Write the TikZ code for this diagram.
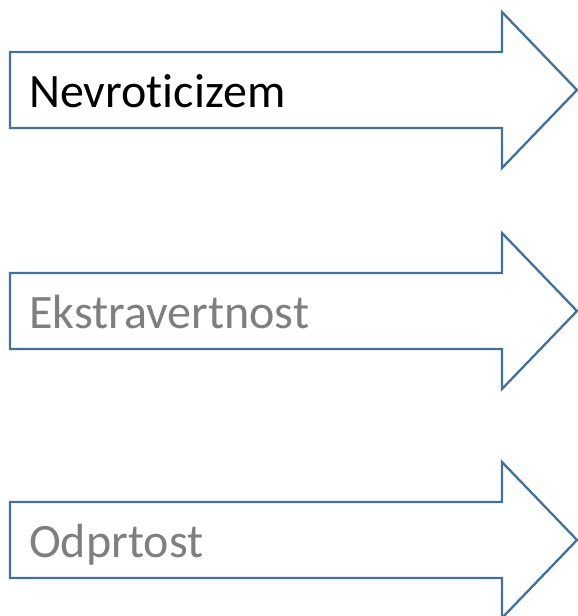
\documentclass[tikz,border=0pt]{standalone}
\usepackage{fontspec}
\setmainfont[Ligatures={NoCommon,NoContextual}]{Carlito}
\definecolor{arrowblue}{HTML}{41719C}
\definecolor{labelgray}{HTML}{7F7F7F}
\tikzset{
  bigarrow/.style={draw=arrowblue, line width=2.3pt, fill=white, line join=miter},
  lbl/.style={anchor=base west, inner sep=0pt, font=\fontsize{48}{57}\selectfont}
}
\newcommand{\bigarr}[1]{%
  \draw[bigarrow] (10,#1-38) -- (502,#1-38) -- (502,#1-78) -- (577,#1) -- (502,#1+78) -- (502,#1+38) -- (10,#1+38) -- cycle;}
\begin{document}
\begin{tikzpicture}[x=1pt,y=-1pt]
\useasboundingbox (0,0) rectangle (578,616);
\bigarr{90}
\bigarr{311}
\bigarr{540}
\node[lbl, text=black] (n1) at (29,107) {Nevroticizem};
\node[lbl, text=labelgray] (n2) at (29,328) {Ekstravertnost};
\node[lbl, text=labelgray] (n3) at (29,557) {Odprtost};
\end{tikzpicture}
\end{document}
